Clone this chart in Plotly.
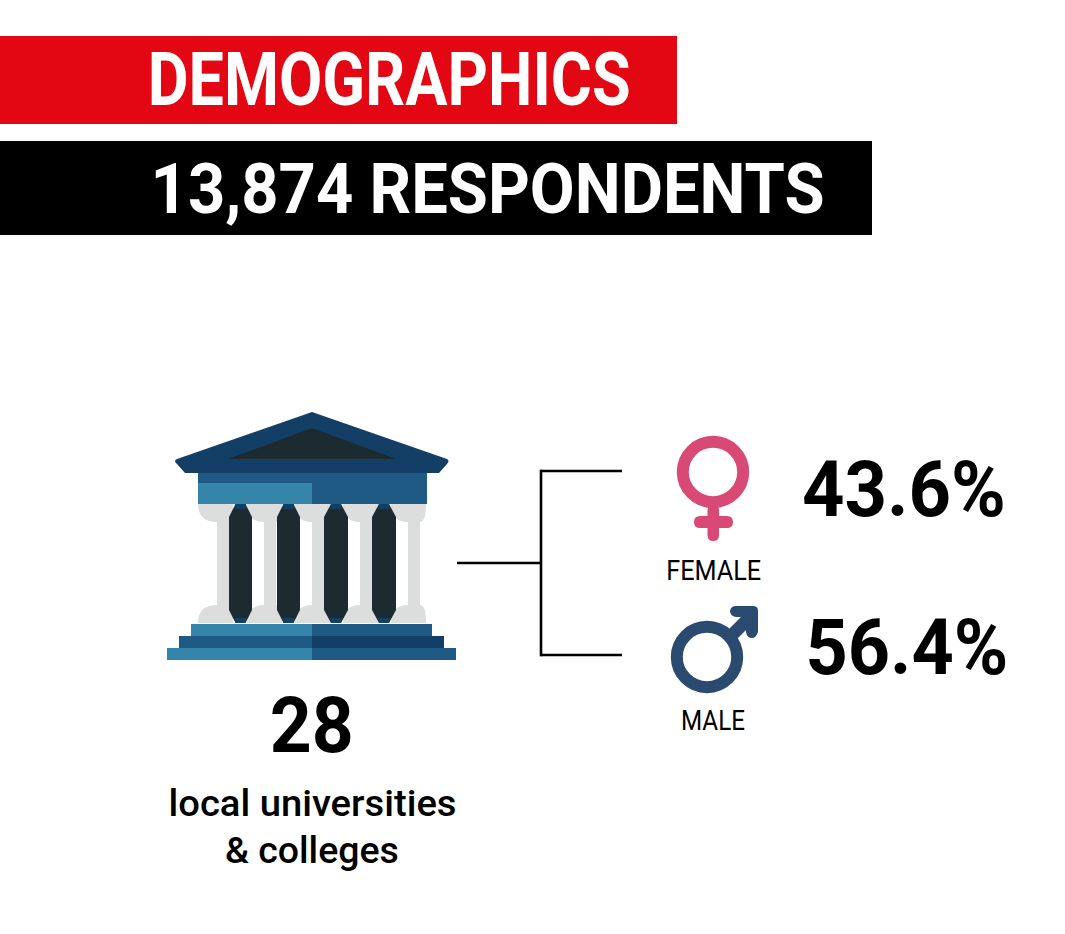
import json
import plotly.graph_objects as go

W, H = 1065, 934

# values
respondents = "13,874"
institutions = 28
gender_labels = ["FEMALE", "MALE"]
gender_shares = [43.6, 56.4]

RED = "#e30613"
PINK = "#d84a75"
NAVY = "#2a4a70"
ROOF = "#133f66"
MID = "#1f5a85"
LIGHT = "#3585ab"
DARK = "#1b2b2f"
GREY = "#dcdedd"
FONT = "Roboto"

shapes = []


def rect(x0, y0, x1, y1, color):
    shapes.append(dict(type="rect", x0=x0, y0=y0, x1=x1, y1=y1, fillcolor=color, line_width=0, layer="below"))


def path(d, color):
    shapes.append(dict(type="path", path=d, fillcolor=color, line_width=0, layer="below"))


def line(x0, y0, x1, y1, color="#000000", width=2.6):
    shapes.append(dict(type="line", x0=x0, y0=y0, x1=x1, y1=y1, line=dict(color=color, width=width), layer="below"))


def pill(x0, y0, x1, y1, color):
    r = min(x1 - x0, y1 - y0) / 2
    path(f"M{x0+r},{y0} L{x1-r},{y0} Q{x1},{y0} {x1},{y0+r} L{x1},{y1-r} Q{x1},{y1} {x1-r},{y1} "
         f"L{x0+r},{y1} Q{x0},{y1} {x0},{y1-r} L{x0},{y0+r} Q{x0},{y0} {x0+r},{y0} Z", color)


def ring(cx, cy, r, width, color):
    shapes.append(dict(type="circle", x0=cx - r, y0=cy - r, x1=cx + r, y1=cy + r,
                       line=dict(color=color, width=width), fillcolor="rgba(0,0,0,0)", layer="below"))


# header bars
rect(0, 36, 677, 124, RED)
rect(0, 141, 872, 235, "#000000")

# building: roof
path("M312,412 L447,459 Q450,461 447,464 L439,473 L185,473 L177,464 Q173,461 177,459 Z", ROOF)
path("M312,428 L396,459 L228,459 Z", DARK)
rect(198, 473, 427, 504, MID)
rect(198, 483, 312, 504, LIGHT)

# building: columns, grey ones first, dark ones over them
# the shaft sits right of the capital's centre, so each column is (capital left, capital right, shaft left)
for x0, x1, sl in [(198, 233, 217), (247, 282, 264), (295, 330, 312), (343, 378, 360), (391, 426, 408)]:
    sr = sl + 12
    path(f"M{x0},504 L{x1},504 Q{x1},522 {sr},522 L{sr},605 Q{x1},605 {x1},623 "
         f"L{x0},623 Q{x0},605 {sl},605 L{sl},522 Q{x0},522 {x0},504 Z", GREY)
for x0, x1 in [(229, 252), (277, 300), (324, 348), (372, 396)]:
    mid = (x0 + x1) / 2
    path(f"M{mid-5},504 L{mid+5},504 L{x1},517 L{x1},610 L{mid+5},623 L{mid-5},623 L{x0},610 L{x0},517 Z", DARK)
    path(f"M{mid-5},504 L{mid+5},504 L{mid+6},509 L{mid-6},509 Z", ROOF)
    path(f"M{mid-6},618 L{mid+6},618 L{mid+5},623 L{mid-5},623 Z", ROOF)

# building: steps
rect(191, 624, 312, 636, LIGHT)
rect(312, 624, 432, 636, MID)
rect(179, 636, 312, 648, MID)
rect(312, 636, 444, 648, ROOF)
rect(167, 648, 312, 660, LIGHT)
rect(312, 648, 456, 660, MID)

# connector bracket
line(457, 563, 541, 563)
line(541, 469.7, 541, 656.3)
line(541, 471, 622, 471)
line(541, 655, 622, 655)

# female sign
ring(713, 472, 30.2, 12, PINK)
pill(707.5, 505, 719, 541, PINK)
pill(694, 516, 733, 528, PINK)

# male sign
ring(707, 657, 30.2, 12, NAVY)
path("M727,631 L745,613 L754,622 L736,640 Z", NAVY)
path("M730,611 Q731,606 736,606 L753,606 Q758,606 758,611 L758,632 Q756,638 752,638 Q747,638 746,632 L746,617 L736,617 Q730,616 730,611 Z", NAVY)

# text, centre x, centre y, font size, weight, drawn width (Roboto is wider than the original face)
texts = [
    ("DEMOGRAPHICS", 388.5, 79, 75, "bold", 483),
    (f"{respondents} RESPONDENTS", 487, 188.5, 71, "bold", 674),
    (f"{gender_shares[0]}%", 904, 489.5, 77, "bold", 204),
    (f"{gender_shares[1]}%", 906.5, 647.5, 77, "bold", 203),
    (gender_labels[0], 713.5, 570, 28, "normal", 95),
    (gender_labels[1], 713, 720, 28, "normal", 64),
    (str(institutions), 312, 725, 78, "bold", 84),
    ("local universities", 312, 803, 37, 500, 288),
    ("& colleges", 312, 850, 37, 500, 174),
]

fig = go.Figure()
for text, x, y, size, weight, _ in texts:
    fig.add_annotation(x=x, y=y, text=text, showarrow=False, xanchor="center", yanchor="middle",
                       font=dict(family=FONT, size=size, weight=weight,
                                 color="#ffffff" if y < 240 else "#000000"))

fig.update_layout(
    width=W, height=H, margin=dict(l=0, r=0, t=0, b=0),
    paper_bgcolor="#ffffff", plot_bgcolor="#ffffff", shapes=shapes,
    xaxis=dict(range=[0, W], visible=False, fixedrange=True),
    yaxis=dict(range=[H, 0], visible=False, fixedrange=True),
)

widths = json.dumps([t[5] for t in texts])
squeeze = """
document.body.style.margin = '0';
var gd = document.getElementById('{plot_id}');
function squeeze() {
  var widths = %s;
  gd.querySelectorAll('.annotation-text').forEach(function (el, i) {
    el.setAttribute('textLength', widths[i]);
    el.setAttribute('lengthAdjust', 'spacingAndGlyphs');
  });
}
squeeze();
gd.on('plotly_afterplot', squeeze);
""" % widths

fig.write_html("out.html", config=dict(displayModeBar=False), post_script=squeeze)
